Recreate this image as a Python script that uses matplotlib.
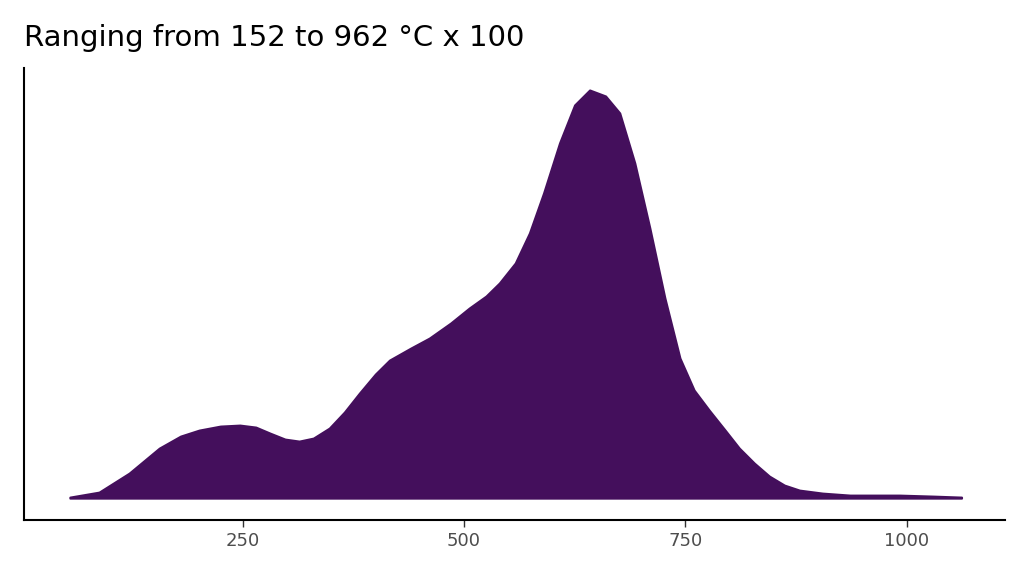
import matplotlib
matplotlib.use("Agg")
import matplotlib.pyplot as plt

xs = [55, 88, 122, 156, 180, 201, 225, 247, 265, 281, 298, 314, 330, 348, 365, 382, 400, 416, 440, 461, 485, 506, 525, 540, 558, 574, 590, 608, 625, 642, 660, 676, 693, 710, 727, 744, 760, 777, 795, 811, 828, 845, 862, 879, 905, 936, 965, 992, 1030, 1062]
dens = [1, 6, 25, 50, 62, 68, 72, 73, 71, 65, 59, 57, 60, 70, 86, 105, 124, 138, 150, 160, 175, 190, 202, 215, 235, 265, 305, 355, 393, 408, 402, 385, 335, 270, 200, 140, 108, 88, 68, 50, 35, 22, 13, 8, 5, 3, 3, 3, 2, 1]
ticks = [250, 500, 750, 1000]
title = "Ranging from 152 to 962 °C x 100"

fig = plt.figure(figsize=(10.24, 5.76), dpi=100)
ax = fig.add_axes([0.023, 0.097, 0.958, 0.785])
ax.fill_between(xs, 0, dens, color="#440F5C", linewidth=1.5, edgecolor="#440F5C")
ax.set_xlim(2.7, 1110.6)
ax.set_ylim(-22, 430)
ax.set_xticks(ticks)
ax.set_xticklabels([str(t) for t in ticks], fontsize=13, color="#4d4d4d")
ax.set_yticks([])
for s in ["top", "right"]:
    ax.spines[s].set_visible(False)
for s in ["left", "bottom"]:
    ax.spines[s].set_linewidth(1.5)
ax.tick_params(axis="x", length=5, width=1, color="#333333")
fig.text(0.023, 0.92, title, fontsize=21, ha="left", va="baseline")
fig.savefig("out.png", dpi=100)
